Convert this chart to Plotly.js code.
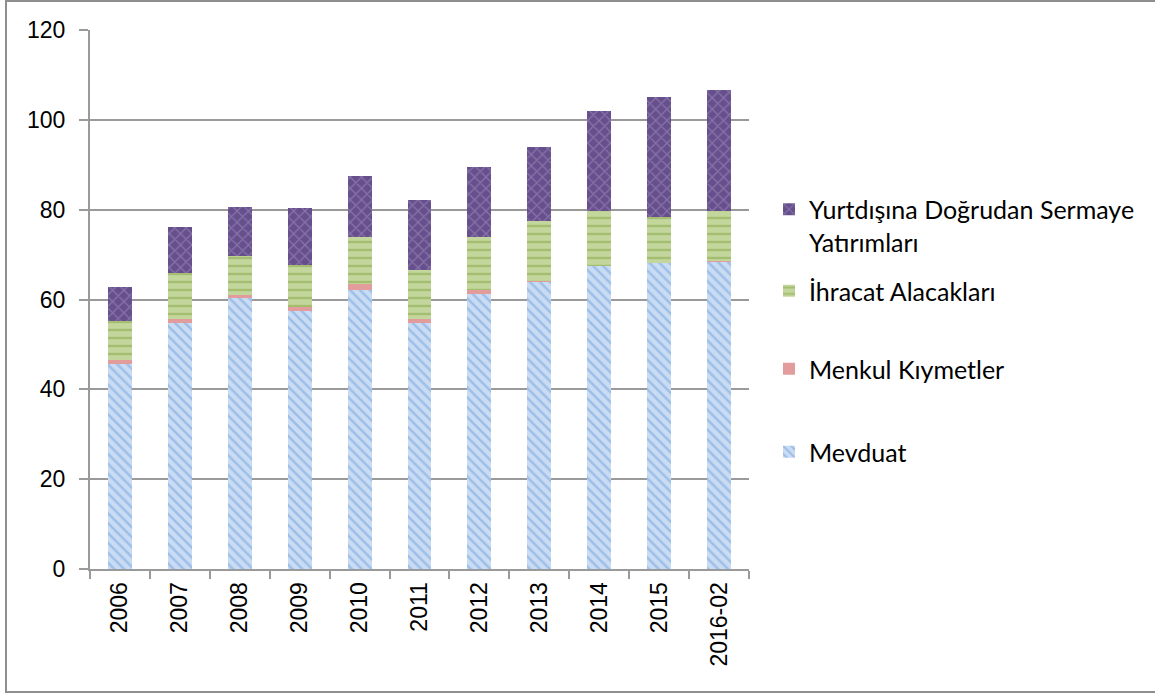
<!DOCTYPE html>
<html><head><meta charset="utf-8">
<script src="https://cdn.plot.ly/plotly-3.0.1.min.js"></script>
<style>
html,body{margin:0;padding:0;background:#fff;overflow:hidden}
#frame{position:absolute;left:5px;top:0;width:1200px;height:689px;border:2px solid #8e8e8e;pointer-events:none}
</style></head><body>
<div id="chart" style="position:absolute;left:0;top:0;width:1155px;height:695px"></div>
<div id="frame"></div>
<script>
const categories = ["2006","2007","2008","2009","2010","2011","2012","2013","2014","2015","2016-02"];
const mevduat = [45.6, 54.8, 60.4, 57.4, 62.1, 54.8, 61.3, 63.9, 67.4, 68.1, 68.4];
const menkulKiymetler = [0.9, 0.9, 0.7, 1.0, 1.35, 0.9, 0.9, 0.2, 0.15, 0.1, 0.2];
const ihracatAlacaklari = [8.7, 10.1, 8.6, 9.3, 10.45, 10.9, 11.65, 13.4, 12.15, 10.1, 11.1];
const yurtdisiYatirimlar = [7.5, 10.3, 10.9, 12.7, 13.6, 15.55, 15.55, 16.5, 22.3, 26.8, 26.9];
const seriesNames = ["Mevduat", "Menkul Kıymetler", "İhracat Alacakları", "Yurtdışına Doğrudan Sermaye<br>Yatırımları"];

const traces = [
  {type:'bar', x:categories, y:mevduat, name:seriesNames[0], legend:'legend4',
   marker:{color:'#c6d9f1', line:{width:0},
     pattern:{shape:'\\', bgcolor:'#c9dcf3', fgcolor:'#6f9fdc', size:7, solidity:0.35, fillmode:'overlay'}}},
  {type:'bar', x:categories, y:menkulKiymetler, name:seriesNames[1], legend:'legend3',
   marker:{color:'#e29c9b', line:{width:0}}},
  {type:'bar', x:categories, y:ihracatAlacaklari, name:seriesNames[2], legend:'legend2',
   marker:{color:'#c3d69b', line:{width:0},
     pattern:{shape:'-', bgcolor:'#c3d69b', fgcolor:'#84a548', size:8, solidity:0.3, fillmode:'overlay'}}},
  {type:'bar', x:categories, y:yurtdisiYatirimlar, name:seriesNames[3], legend:'legend',
   marker:{color:'#6a5690', line:{width:0},
     pattern:{shape:'x', bgcolor:'#664f8c', fgcolor:'#a797c3', size:8, solidity:0.3, fillmode:'overlay'}}}
];

const legFont = {family:'Lato, "Open Sans", sans-serif', size:25, color:'#000'};
function leg(py){
  return {x:769/1155, xref:'container', y:1-py/695, yref:'container', yanchor:'middle', xanchor:'left',
          font:legFont, bgcolor:'rgba(0,0,0,0)', borderwidth:0, valign:'top', itemclick:false, itemdoubleclick:false};
}

const layout = {
  width:1155, height:695,
  margin:{l:90, r:406, t:30, b:126},
  paper_bgcolor:'#fff', plot_bgcolor:'#fff',
  barmode:'stack', bargap:0.6,
  showlegend:true,
  legend:leg(225.5),
  legend2:leg(291),
  legend3:leg(369),
  legend4:leg(452),
  xaxis:{type:'category', tickson:'boundaries', ticks:'outside', ticklen:8, tickwidth:2, tickcolor:'#9a9a9a',
    showline:true, linecolor:'#9a9a9a', linewidth:2, showgrid:false, tickangle:-90,
    tickfont:{family:'"Liberation Sans", Arial, sans-serif', size:23, color:'#000'}, ticklabelstandoff:2},
  yaxis:{range:[0,120], dtick:20, tick0:0, ticks:'outside', ticklen:9, tickwidth:2, tickcolor:'#9a9a9a',
    showline:true, linecolor:'#9a9a9a', linewidth:2, showgrid:true, gridcolor:'#9a9a9a', gridwidth:2,
    zeroline:false, tickfont:{family:'"Liberation Sans", Arial, sans-serif', size:23, color:'#000'}, ticklabelstandoff:9}
};

Plotly.newPlot('chart', traces, layout, {displayModeBar:false, staticPlot:true});
</script>
</body></html>
